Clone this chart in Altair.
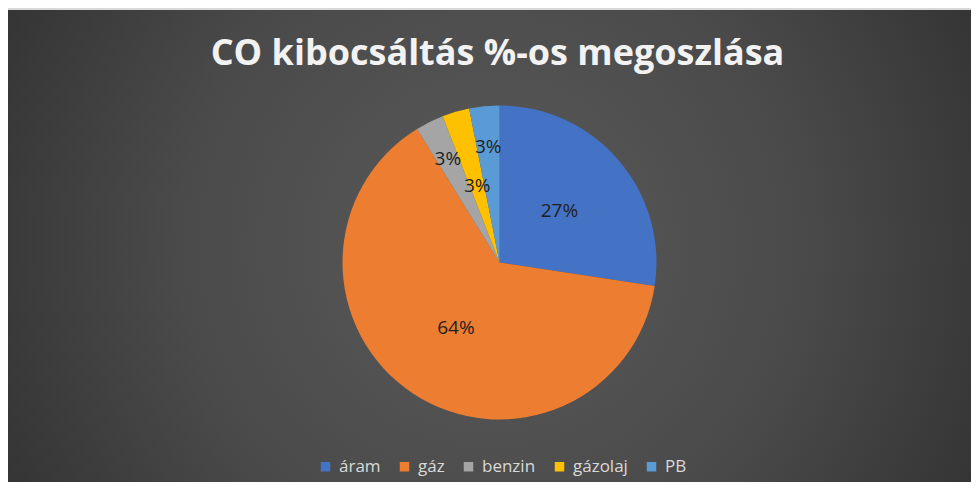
import altair as alt
import pandas as pd

# ---- data ----
categories = ["áram", "gáz", "benzin", "gázolaj", "PB"]
values = [27.4, 63.8, 2.9, 2.8, 3.1]
colors = ["#4472C4", "#ED7D31", "#A5A5A5", "#FFC000", "#5B9BD5"]
title_text = "CO kibocsáltás %-os megoszlása"

W, H = 963, 474
CX, CY, R = 491.5, 254.5, 157

df = pd.DataFrame({"k": categories, "v": values, "i": list(range(len(categories)))})

bg = alt.Chart(alt.Data(values=[{}])).mark_rect(
    color=alt.Gradient(
        gradient="radial",
        x1=0.5, y1=0.5, r1=0.0, x2=0.5, y2=0.5, r2=0.72,
        stops=[
            alt.GradientStop(color="#5a5a5a", offset=0),
            alt.GradientStop(color="#4a4a4a", offset=0.45),
            alt.GradientStop(color="#262626", offset=1),
        ],
    )
).encode(x=alt.value(0), x2=alt.value(W), y=alt.value(2), y2=alt.value(H))

title = alt.Chart(alt.Data(values=[{}])).mark_text(
    text=title_text, font="Open Sans", fontSize=36, fontWeight="bold",
    color="#f2f2f2", align="center", baseline="alphabetic",
).encode(x=alt.value(489.5), y=alt.value(57))

base = alt.Chart(df)

pie = base.mark_arc(radius=R).encode(
    x=alt.value(CX), y=alt.value(CY),
    theta=alt.Theta("v:Q", stack=True),
    order=alt.Order("i:Q"),
    color=alt.Color(
        "k:N",
        scale=alt.Scale(domain=categories, range=colors),
        sort=categories,
        legend=alt.Legend(
            orient="none", legendX=309, legendY=450, direction="horizontal",
            title=None, symbolType="square", symbolSize=90, symbolStrokeWidth=0,
            labelFontSize=17, labelColor="#d9d9d9", labelFont="Open Sans",
            labelOffset=5, columnPadding=15,
        ),
    ),
)

labels = base.transform_window(
    cum="sum(v)", sort=[alt.SortField("i")], frame=[None, 0]
).transform_joinaggregate(
    tot="sum(v)"
).transform_calculate(
    lbl="format(datum.v, '.0f') + '%'",
    mid="(datum.cum - datum.v / 2) / datum.tot * 2 * PI",
    lr="datum.v > 10 ? 79 : (datum.i % 2 == 0 ? 116 : 80)",
).mark_text(
    font="Open Sans", fontSize=19, color="#1f1f1f", align="center", baseline="middle"
).encode(
    x=alt.value(CX), y=alt.value(CY),
    theta=alt.Theta("mid:Q", scale=None),
    radius=alt.Radius("lr:Q", scale=None),
    text="lbl:N",
)

chart = alt.layer(bg, title, pie, labels).properties(
    width=W, height=H, padding=0, background="#d9d9d9"
).configure_view(stroke=None)

chart.save("out.html", embed_options={"renderer": "svg", "actions": False})
